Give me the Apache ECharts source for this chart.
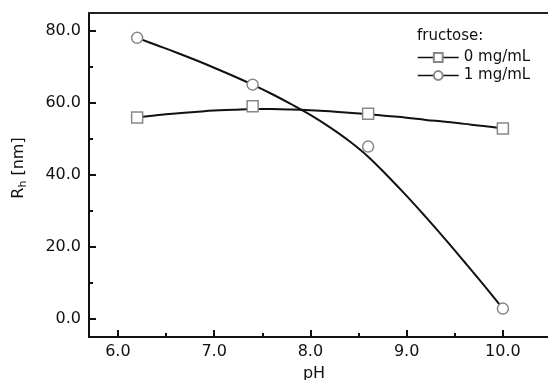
<!DOCTYPE html>
<html>
<head>
<meta charset="utf-8">
<script src="https://cdn.jsdelivr.net/npm/echarts@6/dist/echarts.min.js"></script>
<style>
  html, body { margin: 0; padding: 0; background: #fff; }
  #chart { width: 548px; height: 380px; }
</style>
</head>
<body>
<div id="chart"></div>
<script>
// measured points [pH, Rh]
const pts0 = [[6.2, 56.0], [7.4, 59.1], [8.6, 57.0], [10.0, 52.9]];
const pts1 = [[6.2, 78.1], [7.4, 65.1], [8.6, 47.9], [10.0, 2.9]];
// fitted curves, every 0.2 pH
const fitX = [6.2, 6.4, 6.6, 6.8, 7.0, 7.2, 7.4, 7.6, 7.8, 8.0, 8.2, 8.4, 8.6, 8.8, 9.0, 9.2, 9.4, 9.6, 9.8, 10.0];
const fit0 = [56.0, 56.6, 57.1, 57.5, 57.9, 58.1, 58.3, 58.3, 58.2, 58.0, 57.7, 57.3, 56.9, 56.4, 55.9, 55.3, 54.8, 54.2, 53.6, 52.9];
const fit1 = [78.1, 76.1, 74.1, 72.0, 69.8, 67.5, 65.1, 62.5, 59.7, 56.7, 53.3, 49.5, 45.1, 39.8, 34.2, 28.3, 22.2, 15.9, 9.5, 2.9];
const xTicks = [6, 7, 8, 9, 10];
const xMinor = [6.5, 7.5, 8.5, 9.5];
const yTicks = [0, 20, 40, 60, 80];
const yMinor = [10, 30, 50, 70];

const font = 'DejaVu Sans';
const chart = echarts.init(document.getElementById('chart'));

const fitStyle = {
  type: 'line',
  smooth: 0.4,
  showSymbol: false,
  silent: true,
  lineStyle: {color: '#111', width: 2},
  z: 2
};
const ptStyle = {
  type: 'line',
  symbolSize: 11,
  lineStyle: {opacity: 0},
  itemStyle: {color: '#fff', borderColor: '#888', borderWidth: 1.5},
  z: 3
};
const hidden = {axisLine: {show: false}, axisLabel: {show: false}, splitLine: {show: false}};

chart.setOption({
  animation: false,
  title: {
    text: 'fructose:',
    left: 417,
    top: 29,
    padding: 0,
    textStyle: {fontFamily: font, fontSize: 15, fontWeight: 'normal', color: '#111'}
  },
  legend: {
    data: ['0 mg/mL', '1 mg/mL'],
    orient: 'vertical',
    left: 417,
    top: 50,
    padding: 0,
    itemWidth: 41,
    itemHeight: 11,
    itemGap: 3,
    textStyle: {fontFamily: font, fontSize: 15, color: '#111'},
    lineStyle: {color: '#111', width: 1.5, opacity: 1}
  },
  grid: {left: 89, right: -3, top: 13, bottom: 43, outerBoundsMode: 'none', containLabel: false},
  xAxis: [
    {
      type: 'value', min: 5.7, max: 10.5,
      name: 'pH', nameLocation: 'middle', nameGap: 29,
      nameTextStyle: {fontFamily: font, fontSize: 16, color: '#111', padding: [0, 12, 0, 0]},
      axisLine: {onZero: false, lineStyle: {color: '#111', width: 2}},
      axisTick: {inside: true, length: 7, lineStyle: {color: '#111', width: 2}, customValues: xTicks},
      axisLabel: {
        fontFamily: font, fontSize: 16, color: '#111', margin: 7,
        customValues: xTicks,
        formatter: v => v.toFixed(1)
      },
      splitLine: {show: false}
    },
    Object.assign({
      type: 'value', min: 5.7, max: 10.5, position: 'bottom',
      axisTick: {inside: true, length: 4, lineStyle: {color: '#111', width: 2}, customValues: xMinor}
    }, hidden, {axisLine: {show: false, onZero: false}}),
    Object.assign({
      type: 'value', min: 5.7, max: 10.5, position: 'top',
      axisTick: {show: false}
    }, hidden, {axisLine: {onZero: false, lineStyle: {color: '#222', width: 2}}})
  ],
  yAxis: [
    {
      type: 'value', min: -5, max: 85,
      name: '{r|R}{s|h}{r| [nm]}', nameLocation: 'middle', nameGap: 60,
      nameTextStyle: {
        fontFamily: font, color: '#111', padding: [0, 0, 0, 14],
        rich: {
          r: {fontFamily: font, fontSize: 16, color: '#111'},
          s: {fontFamily: font, fontSize: 11, color: '#111', padding: [9, 0, 0, 0]}
        }
      },
      axisLine: {onZero: false, lineStyle: {color: '#111', width: 2}},
      axisTick: {inside: true, length: 7, lineStyle: {color: '#111', width: 2}, customValues: yTicks},
      axisLabel: {
        fontFamily: font, fontSize: 16, color: '#111', margin: 8,
        customValues: yTicks,
        formatter: v => v.toFixed(1)
      },
      splitLine: {show: false}
    },
    Object.assign({
      type: 'value', min: -5, max: 85, position: 'left',
      axisTick: {inside: true, length: 4, lineStyle: {color: '#111', width: 2}, customValues: yMinor}
    }, hidden, {axisLine: {show: false, onZero: false}})
  ],
  series: [
    Object.assign({name: 'fit0', data: fitX.map((x, i) => [x, fit0[i]])}, fitStyle),
    Object.assign({name: 'fit1', data: fitX.map((x, i) => [x, fit1[i]])}, fitStyle),
    Object.assign({name: '0 mg/mL', symbol: 'rect', data: pts0}, ptStyle),
    Object.assign({name: '1 mg/mL', symbol: 'circle', data: pts1}, ptStyle)
  ]
});
</script>
</body>
</html>
